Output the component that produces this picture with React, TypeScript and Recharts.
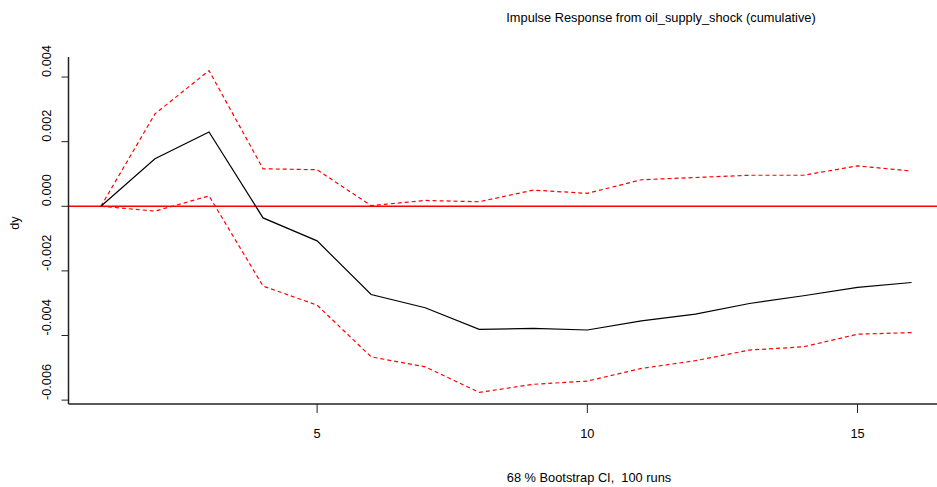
import React from "react";
import { LineChart, Line, XAxis, YAxis, ReferenceLine } from "recharts";

// forecast horizon (periods)
const horizon = [1, 2, 3, 4, 5, 6, 7, 8, 9, 10, 11, 12, 13, 14, 15, 16];

// cumulative response of dy
const irf = [
  0, 0.00147, 0.0023, -0.00036, -0.00107, -0.00273, -0.00314, -0.00381,
  -0.00378, -0.00383, -0.00355, -0.00334, -0.00301, -0.00277, -0.00251, -0.00236,
];

// 68% bootstrap band
const upper = [
  0, 0.00286, 0.0042, 0.00116, 0.00113, 0.00002, 0.00018, 0.00014,
  0.0005, 0.0004, 0.00082, 0.00089, 0.00096, 0.00096, 0.00125, 0.00109,
];
const lower = [
  0, -0.00015, 0.00032, -0.00247, -0.00306, -0.00466, -0.00497, -0.00576,
  -0.00551, -0.00541, -0.00502, -0.00478, -0.00445, -0.00435, -0.00396, -0.00391,
];

const xTicks = [5, 10, 15];
const yTicks = [-0.006, -0.004, -0.002, 0, 0.002, 0.004];

const data = horizon.map((h, i) => ({ h, irf: irf[i], upper: upper[i], lower: lower[i] }));

const FONT = "'Liberation Sans', Arial, Helvetica, sans-serif";
const FS = 12.8;
const AXIS = "#222";

const XTick = (props: any) => {
  const { x, payload } = props;
  return (
    <text x={x} y={438} textAnchor="middle" fontSize={FS} fontFamily={FONT} fill="#000">
      {payload.value}
    </text>
  );
};

const YTick = (props: any) => {
  const { y, payload } = props;
  return (
    <text
      x={51}
      y={y}
      transform={`rotate(-90, 51, ${y})`}
      textAnchor="start"
      fontSize={FS}
      fontFamily={FONT}
      fill="#000"
    >
      {payload.value.toFixed(3)}
    </text>
  );
};

export default function App() {
  return (
    <div style={{ position: "fixed", left: 0, top: 0, width: 937, height: 487, overflow: "hidden", background: "#fff" }}>
      <LineChart
        width={954}
        height={487}
        data={data}
        margin={{ top: 57, right: 10, bottom: 0, left: 0 }}
      >
        <XAxis
          dataKey="h"
          type="number"
          domain={[0.4, 16.6]}
          ticks={xTicks}
          tickSize={9}
          tick={<XTick />}
          height={83}
          stroke={AXIS}
          axisLine={{ stroke: AXIS, strokeWidth: 1.5 }}
          allowDataOverflow
        />
        <XAxis xAxisId="top" orientation="top" height={0} tick={false} tickLine={false} axisLine={{ stroke: "#555", strokeWidth: 1.5 }} />
        <YAxis
          type="number"
          domain={[-0.00612, 0.00462]}
          ticks={yTicks}
          tickSize={7}
          tick={<YTick />}
          width={68.5}
          stroke={AXIS}
          axisLine={{ stroke: AXIS, strokeWidth: 1.5 }}
          allowDataOverflow
        />
        <ReferenceLine y={0} stroke="#ff0000" strokeWidth={1.5} />
        <Line dataKey="upper" stroke="#ff0000" strokeWidth={1.2} strokeDasharray="4 3" dot={false} isAnimationActive={false} />
        <Line dataKey="lower" stroke="#ff0000" strokeWidth={1.2} strokeDasharray="4 3" dot={false} isAnimationActive={false} />
        <Line dataKey="irf" stroke="#000" strokeWidth={1.2} dot={false} isAnimationActive={false} />
      </LineChart>
      <svg width={937} height={487} style={{ position: "absolute", left: 0, top: 0, pointerEvents: "none" }}>
        <text x={661} y={22} textAnchor="middle" fontSize={FS} fontFamily={FONT} fill="#000">
          Impulse Response from oil_supply_shock (cumulative)
        </text>
        <text x={589} y={482} textAnchor="middle" fontSize={FS} fontFamily={FONT} fill="#000" style={{ whiteSpace: "pre" }}>
          68 % Bootstrap CI,  100 runs
        </text>
        <text x={19} y={223} transform="rotate(-90, 19, 223)" textAnchor="middle" fontSize={FS} fontFamily={FONT} fill="#000">
          dy
        </text>
      </svg>
    </div>
  );
}
